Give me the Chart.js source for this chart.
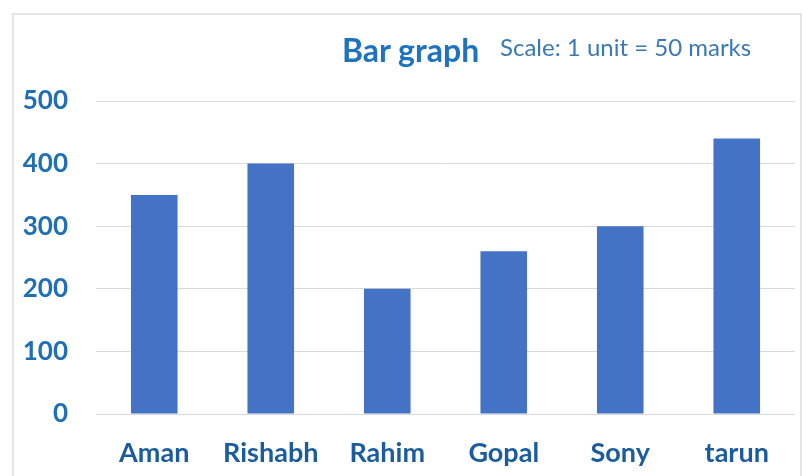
<!DOCTYPE html>
<html>
<head>
<meta charset="utf-8">
<script src="https://cdn.jsdelivr.net/npm/chart.js@4/dist/chart.umd.min.js"></script>
<style>
  html,body{margin:0;padding:0;background:#fff;}
  #wrap{position:relative;width:804px;height:476px;overflow:hidden;}
  #frame{position:absolute;left:12px;top:13px;width:790px;height:480px;border:2px solid #e4e4e4;box-sizing:border-box;}
  #title{position:absolute;left:342px;top:30px;font:bold 32px Lato, sans-serif;color:#1f72be;white-space:nowrap;line-height:40px;}
  #scale{position:absolute;left:500px;top:32px;font:24px Lato, sans-serif;color:#3a78b5;white-space:nowrap;line-height:30px;}
  canvas{position:absolute;left:0;top:0;}
</style>
</head>
<body>
<div id="wrap">
  <div id="frame"></div>
  <canvas id="c" width="804" height="476"></canvas>
  <div id="title">Bar graph</div>
  <div id="scale">Scale: 1 unit = 50 marks</div>
</div>
<script>
const categories = ["Aman", "Rishabh", "Rahim", "Gopal", "Sony", "tarun"];
const marks = [350, 400, 200, 260, 300, 440];
const yTicks = [0, 100, 200, 300, 400, 500];

new Chart(document.getElementById('c'), {
  type: 'bar',
  data: {
    labels: categories,
    datasets: [{
      data: marks,
      backgroundColor: '#4472c4',
      borderWidth: 0,
      barPercentage: 0.4,
      categoryPercentage: 1.0
    }]
  },
  options: {
    responsive: false,
    animation: false,
    layout: { padding: { left: 0, right: 9, top: 101, bottom: 0 } },
    plugins: { legend: { display: false }, tooltip: { enabled: false } },
    scales: {
      x: {
        grid: { display: false, drawTicks: false },
        border: { display: false },
        ticks: {
          color: '#1b5c9e',
          font: { family: 'Lato', weight: 'bold', size: 27 },
          padding: 23,
          maxRotation: 0
        },
        afterFit: (s) => { s.height = 62; }
      },
      y: {
        min: 0,
        max: 500,
        afterBuildTicks: (s) => { s.ticks = yTicks.map(v => ({ value: v })); },
        grid: { color: '#d9d9d9', lineWidth: 1, drawTicks: false },
        border: { display: false },
        ticks: {
          color: '#1f6fb5',
          font: { family: 'Lato', weight: 'bold', size: 26 },
          padding: 28
        },
        afterFit: (s) => { s.width = 96; }
      }
    }
  }
});
</script>
</body>
</html>
